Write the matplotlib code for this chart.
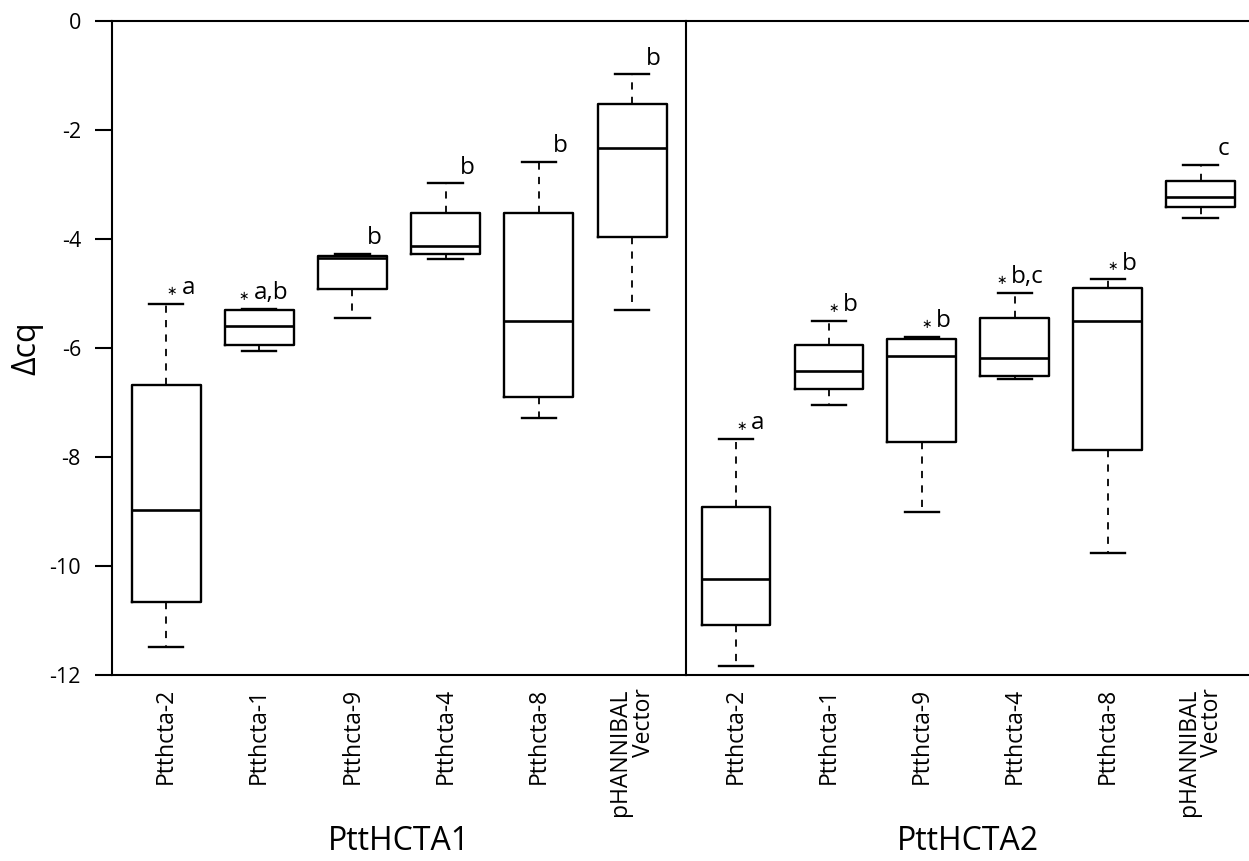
import matplotlib
matplotlib.use("Agg")
from matplotlib import pyplot as plt

plt.rcParams['font.family'] = ['Open Sans', 'DejaVu Sans']
plt.rcParams['axes.unicode_minus'] = False

groups = ['PttHCTA1', 'PttHCTA2']
lines = ['Ptthcta-2', 'Ptthcta-1', 'Ptthcta-9', 'Ptthcta-4', 'Ptthcta-8', 'pHANNIBAL\nVector']

# PttHCTA1 (whisker low, q1, median, q3, whisker high)
a1_low = [-11.49, -6.05, -5.45, -4.37, -7.29, -5.31]
a1_q1 = [-10.66, -5.95, -4.91, -4.28, -6.90, -3.96]
a1_med = [-8.98, -5.60, -4.35, -4.12, -5.50, -2.33]
a1_q3 = [-6.67, -5.31, -4.32, -3.53, -3.53, -1.52]
a1_high = [-5.19, -5.28, -4.28, -2.98, -2.58, -0.98]
a1_sig = ['a', 'a,b', 'b', 'b', 'b', 'b']
a1_star = [True, True, False, False, False, False]

# PttHCTA2
a2_low = [-11.83, -7.04, -9.01, -6.57, -9.77, -3.61]
a2_q1 = [-11.08, -6.75, -7.72, -6.51, -7.88, -3.42]
a2_med = [-10.24, -6.43, -6.14, -6.18, -5.51, -3.22]
a2_q3 = [-8.91, -5.95, -5.83, -5.45, -4.90, -2.94]
a2_high = [-7.67, -5.50, -5.80, -4.99, -4.74, -2.64]
a2_sig = ['a', 'b', 'b', 'b,c', 'b', 'c']
a2_star = [True, True, True, True, True, False]

fig = plt.figure(figsize=(12.49, 8.61), dpi=100)
ax1 = fig.add_axes([0.0893, 0.216, 0.46, 0.7596])
ax2 = fig.add_axes([0.5492, 0.216, 0.4508, 0.7596], sharey=ax1)

sets = [
    (ax1, a1_low, a1_q1, a1_med, a1_q3, a1_high, a1_sig, a1_star, groups[0], (0.415, 6.58)),
    (ax2, a2_low, a2_q1, a2_med, a2_q3, a2_high, a2_sig, a2_star, groups[1], (0.462, 6.52)),
]

pos = list(range(1, len(lines) + 1))

for ax, lo, q1, med, q3, hi, sig, star, grp, xl in sets:
    stats = []
    for i in range(len(lines)):
        stats.append(dict(whislo=lo[i], q1=q1[i], med=med[i], q3=q3[i], whishi=hi[i], label=lines[i]))
    ax.bxp(stats, positions=pos, widths=0.74, showfliers=False,
           boxprops=dict(color='black', linewidth=1.7),
           whiskerprops=dict(color='black', linewidth=1.3, linestyle=(0, (4, 4))),
           capprops=dict(color='black', linewidth=1.7),
           medianprops=dict(color='black', linewidth=1.9))
    # significance letters, small asterisk in front = significant vs vector
    for i in range(len(lines)):
        t = ax.text(pos[i] + 0.31, hi[i] + 0.18, sig[i], ha='right', va='baseline', fontsize=17.5)
        if star[i]:
            ax.annotate('\u2217', xy=(0, 0.36), xycoords=t, xytext=(-3, 0), textcoords='offset points',
                        ha='right', va='center', fontsize=9, family='DejaVu Sans')

    ax.set_xlim(*xl)
    ax.set_xticks(pos)
    ax.set_xticklabels(lines, rotation=90, fontsize=16.5, linespacing=0.95)
    for t in ax.get_xticklabels():
        t.set_multialignment('right')
    ax.tick_params(axis='x', length=0, pad=9.5)
    ax.set_xlabel(grp, fontsize=23, labelpad=7)
    ax.spines['right'].set_visible(False)
    for s in ['left', 'top', 'bottom']:
        ax.spines[s].set_linewidth(1.5)

ax1.set_ylim(-12, 0)
ax1.set_yticks(range(-12, 1, 2))
ax1.tick_params(axis='y', length=12, width=1.5, labelsize=15.5, pad=10)
ax1.set_ylabel('\u0394cq', fontsize=23, labelpad=4)
ax2.tick_params(axis='y', left=False, labelleft=False)

fig.savefig('out.png', dpi=100)
